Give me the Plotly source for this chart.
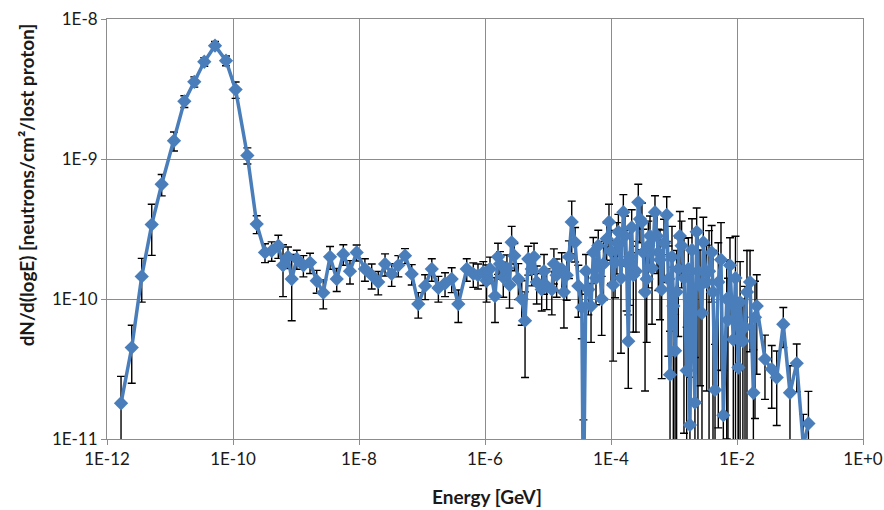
import plotly.graph_objects as go

# Energy bins [GeV]
energy = [
    1.67e-12, 2.47e-12, 3.56e-12, 5.13e-12, 7.38e-12, 1.156e-11, 1.69e-11, 2.43e-11, 3.50e-11, 5.18e-11,
    7.74e-11, 1.10e-10, 1.69e-10, 2.38e-10, 3.22e-10, 4.11e-10, 5.24e-10, 6.22e-10, 7.46e-10, 8.55e-10,
    1.03e-9, 1.31e-9, 1.67e-9, 2.13e-9, 2.71e-9, 3.47e-9, 4.43e-9, 5.64e-9, 7.19e-9, 9.18e-9,
    1.24e-8, 1.59e-8, 2.02e-8, 2.59e-8, 3.30e-8, 4.21e-8, 5.37e-8, 6.87e-8, 8.73e-8, 1.12e-7,
    1.43e-7, 1.82e-7, 2.32e-7, 2.96e-7, 3.77e-7, 5.13e-7, 6.52e-7, 7.74e-7, 9.40e-7,
    1.06e-6, 1.20e-6, 1.44e-6, 1.61e-6, 1.73e-6, 1.95e-6, 2.23e-6, 2.45e-6, 2.65e-6, 2.92e-6,
    3.38e-6, 3.83e-6, 4.32e-6, 4.86e-6, 5.51e-6, 6.0e-6, 6.62e-6, 7.94e-6, 8.65e-6, 9.53e-6,
    1.15e-5, 1.24e-5, 1.37e-5, 1.65e-5, 1.79e-5, 1.98e-5, 2.15e-5, 2.38e-5, 2.69e-5, 3.03e-5,
    3.44e-5, 3.65e-5, 4.01e-5, 4.37e-5, 4.82e-5, 5.24e-5, 5.78e-5, 6.28e-5, 7.11e-5, 7.60e-5,
    8.55e-5, 9.29e-5, 1.00e-4, 1.08e-4, 1.16e-4, 1.24e-4, 1.31e-4, 1.44e-4, 1.57e-4, 1.67e-4,
    1.77e-4, 1.88e-4, 2.0e-4, 2.13e-4, 2.26e-4, 2.49e-4, 2.71e-4, 2.88e-4, 3.10e-4, 3.26e-4,
    3.47e-4, 3.69e-4, 3.91e-4, 4.16e-4, 4.48e-4, 4.99e-4, 5.37e-4, 5.64e-4, 6.0e-4, 6.38e-4,
    6.94e-4, 7.66e-4, 8.13e-4, 8.65e-4, 9.29e-4, 9.75e-4, 1.04e-3, 1.10e-3, 1.17e-3, 1.24e-3,
    1.32e-3, 1.44e-3, 1.59e-3, 1.69e-3, 1.79e-3, 1.93e-3, 2.15e-3, 2.29e-3, 2.40e-3, 2.59e-3,
    2.78e-3, 2.92e-3, 3.30e-3, 3.60e-3, 3.96e-3, 4.16e-3, 4.48e-3, 5.05e-3, 5.57e-3, 6.07e-3,
    6.87e-3, 7.19e-3, 7.74e-3, 8.73e-3, 9.46e-3, 1.05e-2, 1.12e-2, 1.24e-2, 1.34e-2, 1.44e-2,
    1.61e-2, 1.82e-2, 1.93e-2, 2.06e-2, 2.78e-2, 3.56e-2, 4.27e-2, 5.43e-2, 6.93e-2, 8.87e-2,
    1.13e-1, 1.36e-1,
]

# dN/d(logE) [neutrons/cm2/lost proton]
flux = [
    1.8e-11, 4.5e-11, 1.45e-10, 3.4e-10, 6.6e-10, 1.35e-9, 2.58e-9, 3.56e-9, 4.95e-9, 6.45e-9,
    5.04e-9, 3.13e-9, 1.06e-9, 3.43e-10, 2.15e-10, 2.21e-10, 2.40e-10, 1.74e-10, 2.0e-10, 1.39e-10,
    1.93e-10, 1.74e-10, 1.82e-10, 1.35e-10, 1.11e-10, 2.0e-10, 1.39e-10, 2.09e-10, 1.58e-10, 2.15e-10,
    1.64e-10, 1.48e-10, 1.32e-10, 1.78e-10, 1.51e-10, 1.74e-10, 2.04e-10, 1.51e-10, 9.2e-11, 1.24e-10,
    1.64e-10, 1.20e-10, 1.29e-10, 1.39e-10, 9.2e-11, 1.64e-10, 1.51e-10, 1.48e-10, 1.55e-10,
    1.35e-10, 1.64e-10, 1.05e-10, 2.0e-10, 1.78e-10, 1.43e-10, 1.66e-10, 1.26e-10, 2.54e-10, 2.04e-10,
    1.39e-10, 1.0e-10, 7.0e-11, 1.93e-10, 1.64e-10, 2.0e-10, 1.32e-10, 1.17e-10, 1.58e-10, 1.24e-10,
    1.17e-10, 1.78e-10, 1.48e-10, 1.64e-10, 1.12e-10, 1.48e-10, 2.0e-10, 3.55e-10, 2.54e-10, 1.24e-10,
    8.7e-11, 3.0e-12, 1.58e-10, 1.17e-10, 8.9e-11, 2.15e-10, 1.41e-10, 2.40e-10, 1.0e-10, 1.78e-10,
    2.69e-10, 3.55e-10, 2.19e-10, 1.26e-10, 1.82e-10, 2.51e-10, 3.02e-10, 1.41e-10, 4.17e-10, 2.82e-10,
    1.82e-10, 5.0e-11, 2.0e-10, 3.24e-10, 1.48e-10, 1.58e-10, 4.90e-10, 3.72e-10, 3.55e-10, 2.15e-10,
    1.12e-10, 1.39e-10, 2.40e-10, 2.82e-10, 1.66e-10, 4.17e-10, 2.82e-10, 2.15e-10, 1.91e-10, 1.17e-10,
    2.51e-10, 3.98e-10, 1.39e-10, 2.88e-11, 2.0e-10, 8.9e-11, 4.27e-11, 1.12e-10, 1.64e-10, 2.82e-10,
    2.40e-10, 1.41e-10, 3.09e-11, 1.64e-10, 1.26e-11, 2.24e-10, 1.82e-11, 3.02e-10, 1.58e-10, 1.24e-10,
    7.94e-11, 2.54e-10, 1.32e-10, 1.58e-10, 2.15e-10, 1.12e-10, 2.24e-11, 1.32e-10, 1.91e-10, 1.48e-11,
    1.0e-10, 7.08e-11, 1.74e-10, 5.13e-11, 1.41e-10, 3.24e-11, 9.5e-11, 5.01e-11, 6.3e-11, 1.12e-10,
    1.32e-10, 2.14e-11, 7.4e-11, 8.9e-11, 3.72e-11, 3.16e-11, 2.75e-11, 6.6e-11, 2.14e-11, 3.47e-11,
    9.0e-12, 1.29e-11,
]

# symmetric statistical error on flux
flux_err = [
    1.0e-11, 2.0e-11, 5.0e-11, 1.35e-10, 1.15e-10, 2.1e-10, 2.5e-10, 3.0e-10, 3.5e-10, 4.5e-10,
    4.0e-10, 4.2e-10, 1.4e-10, 5.0e-11, 3.3e-11, 3.5e-11, 4.5e-11, 7.0e-11, 3.5e-11, 6.9e-11,
    3.0e-11, 3.0e-11, 3.0e-11, 2.5e-11, 2.6e-11, 3.7e-11, 2.6e-11, 3.5e-11, 3.0e-11, 2.8e-11,
    3.0e-11, 3.0e-11, 2.5e-11, 3.2e-11, 2.8e-11, 3.0e-11, 2.5e-11, 2.5e-11, 1.9e-11, 2.5e-11,
    3.0e-11, 2.5e-11, 2.5e-11, 2.8e-11, 2.4e-11, 3.0e-11, 3.0e-11, 3.0e-11, 3.0e-11,
    4.0e-11, 3.5e-11, 3.7e-11, 5.0e-11, 4.0e-11, 4.0e-11, 4.0e-11, 4.0e-11, 7.6e-11, 4.5e-11,
    4.0e-11, 3.5e-11, 4.25e-11, 4.5e-11, 4.0e-11, 5.0e-11, 4.0e-11, 3.5e-11, 5.0e-11, 4.0e-11,
    4.0e-11, 5.0e-11, 4.5e-11, 5.0e-11, 5.0e-11, 5.0e-11, 6.0e-11, 1.45e-10, 7.0e-11, 5.0e-11,
    3.5e-11, 1.07e-11, 5.0e-11, 4.0e-11, 4.0e-11, 6.0e-11, 5.0e-11, 7.0e-11, 4.5e-11, 8.0e-11,
    8.0e-11, 1.2e-10, 9.0e-11, 9.0e-11, 8.0e-11, 1.0e-10, 1.0e-10, 1.0e-10, 1.4e-10, 1.1e-10,
    1.0e-10, 2.7e-11, 1.1e-10, 1.1e-10, 9.0e-11, 1.0e-10, 1.7e-10, 1.2e-10, 1.3e-10, 1.0e-10,
    9.0e-11, 9.0e-11, 1.2e-10, 1.1e-10, 1.0e-10, 1.3e-10, 1.3e-10, 1.0e-10, 1.2e-10, 9.0e-11,
    1.2e-10, 1.4e-10, 1.0e-10, 3.0e-11, 1.3e-10, 8.0e-11, 3.5e-11, 1.1e-10, 1.1e-10, 1.4e-10,
    1.2e-10, 1.3e-10, 3.2e-11, 1.1e-10, 1.5e-11, 1.5e-10, 2.0e-11, 1.45e-10, 1.5e-10, 1.0e-10,
    8.0e-11, 1.3e-10, 1.1e-10, 1.5e-10, 1.2e-10, 1.1e-10, 2.5e-11, 1.2e-10, 1.6e-10, 1.6e-11,
    9.0e-11, 7.0e-11, 1.0e-10, 5.0e-11, 1.4e-10, 3.3e-11, 9.0e-11, 5.0e-11, 6.0e-11, 1.1e-10,
    9.0e-11, 2.2e-11, 6.0e-11, 6.0e-11, 1.8e-11, 1.5e-11, 1.5e-11, 2.1e-11, 1.2e-11, 1.3e-11,
    6.0e-12, 9.0e-12,
]

x_tick_vals = [1e-12, 1e-10, 1e-8, 1e-6, 1e-4, 1e-2, 1e0]
x_tick_text = ["1E-12", "1E-10", "1E-8", "1E-6", "1E-4", "1E-2", "1E+0"]
y_tick_vals = [1e-11, 1e-10, 1e-9, 1e-8]
y_tick_text = ["1E-11", "1E-10", "1E-9", "1E-8"]

BLUE = "#4A7EBB"
GRID = "#8C8C8C"
FONT = "Lato, Carlito, 'Open Sans', sans-serif"

fig = go.Figure()
fig.add_trace(go.Scatter(
    x=energy, y=flux,
    mode="lines+markers",
    line=dict(color=BLUE, width=3.5),
    marker=dict(symbol="diamond", size=11, color=BLUE),
    error_y=dict(type="data", array=flux_err, visible=True,
                 color="#000000", thickness=1.4, width=4),
    showlegend=False,
))

axis_common = dict(
    type="log", tickmode="array",
    showgrid=True, gridcolor=GRID, gridwidth=1,
    showline=True, linecolor=GRID, linewidth=1, mirror=True,
    ticks="outside", ticklen=5, tickcolor=GRID,
    zeroline=False, automargin=False, ticklabeloverflow="allow",
    tickfont=dict(family=FONT, size=17, color="#1a1a1a"),
)

fig.update_layout(
    width=884, height=510,
    margin=dict(l=107, r=21, t=19, b=71, autoexpand=False),
    paper_bgcolor="white", plot_bgcolor="white",
    font=dict(family=FONT, size=17, color="#1a1a1a"),
    xaxis=dict(axis_common, range=[-12, 0], tickvals=x_tick_vals, ticktext=x_tick_text),
    yaxis=dict(axis_common, range=[-11, -8], tickvals=y_tick_vals, ticktext=y_tick_text),
    annotations=[
        dict(text="<b>Energy [GeV]</b>", xref="paper", yref="paper",
             x=0.503, y=-0.136, xanchor="center", yanchor="middle",
             showarrow=False, font=dict(family=FONT, size=19, color="#1a1a1a")),
        dict(text="<b>dN/d(logE) [neutrons/cm²/lost proton]</b>", xref="paper", yref="paper",
             x=-0.106, y=0.606, xanchor="center", yanchor="middle", textangle=-90,
             showarrow=False, font=dict(family=FONT, size=19, color="#1a1a1a")),
    ],
)

# remove the default page margin so the 884x510 figure fills the window exactly
fig.write_html(
    "out.html",
    config={"displayModeBar": False},
    post_script="document.body.style.margin='0';document.body.style.overflow='hidden';",
)
